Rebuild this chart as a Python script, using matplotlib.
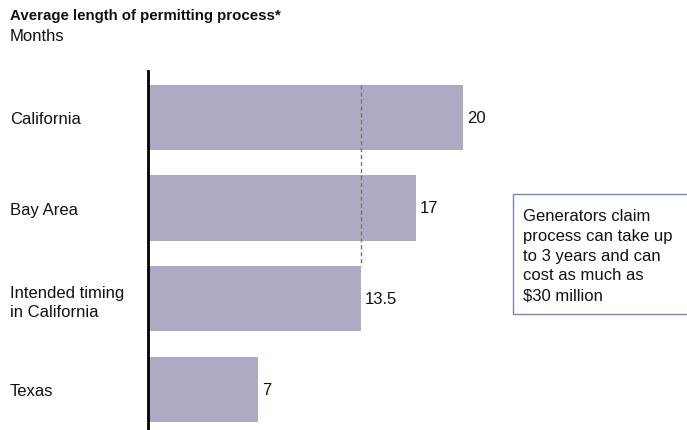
import matplotlib
matplotlib.use('Agg')
import matplotlib.pyplot as plt
from matplotlib.patches import Rectangle

categories = ['California', 'Bay Area', 'Intended timing\nin California', 'Texas']
months = [20, 17, 13.5, 7]
value_labels = ['20', '17', '13.5', '7']
intended_ref = 13.5

W, H = 687, 431
fig = plt.figure(figsize=(W / 100, H / 100), dpi=100)
plt.rcParams['font.family'] = ['Liberation Sans', 'DejaVu Sans']

# axes: x=0 at px 148, x=20 at px 463; top px 72, bottom px 431
ax = fig.add_axes([148 / W, 0, (463 - 148) / W, (431 - 72) / H])
ax.set_xlim(0, 20)
ax.set_ylim(3.45, -0.51)

ypos = list(range(len(categories)))
bar_color = '#aeaac4'
ax.barh(ypos, months, height=0.72, color=bar_color, edgecolor='none', zorder=2)

for y, v, lab in zip(ypos, months, value_labels):
    ax.text(v + 0.25, y, lab, va='center', ha='left', fontsize=12, color='#111111')

# dashed reference line at intended timing
ax.plot([intended_ref, intended_ref], [0 - 0.36, 2 - 0.36], color='#777777',
        linestyle=(0, (3, 2)), linewidth=1, zorder=3)

for s in ['top', 'right', 'bottom']:
    ax.spines[s].set_visible(False)
ax.spines['left'].set_linewidth(2)
ax.spines['left'].set_color('black')
ax.set_xticks([])
ax.set_yticks(ypos)
ax.set_yticklabels(categories, fontsize=12, ha='left', color='#111111', linespacing=1.3)
ax.tick_params(axis='y', length=0, pad=(148 - 10) * 0.72)

fig.text(10 / W, 1 - 9 / H, 'Average length of permitting process*', fontsize=10.8,
         fontweight='bold', va='top', ha='left', color='#111111')
fig.text(10 / W, 1 - 29 / H, 'Months', fontsize=12, va='top', ha='left', color='#111111')

# callout box
fig.patches.append(Rectangle((513 / W, 1 - 315 / H), 200 / W, 120 / H,
                             transform=fig.transFigure, facecolor='white',
                             edgecolor='#7d88b0', linewidth=1))
fig.text(523 / W, 1 - 209 / H,
         'Generators claim\nprocess can take up\nto 3 years and can\ncost as much as\n$30 million',
         fontsize=12, va='top', ha='left', linespacing=1.4, color='#111111')

fig.savefig('out.png', dpi=100)
